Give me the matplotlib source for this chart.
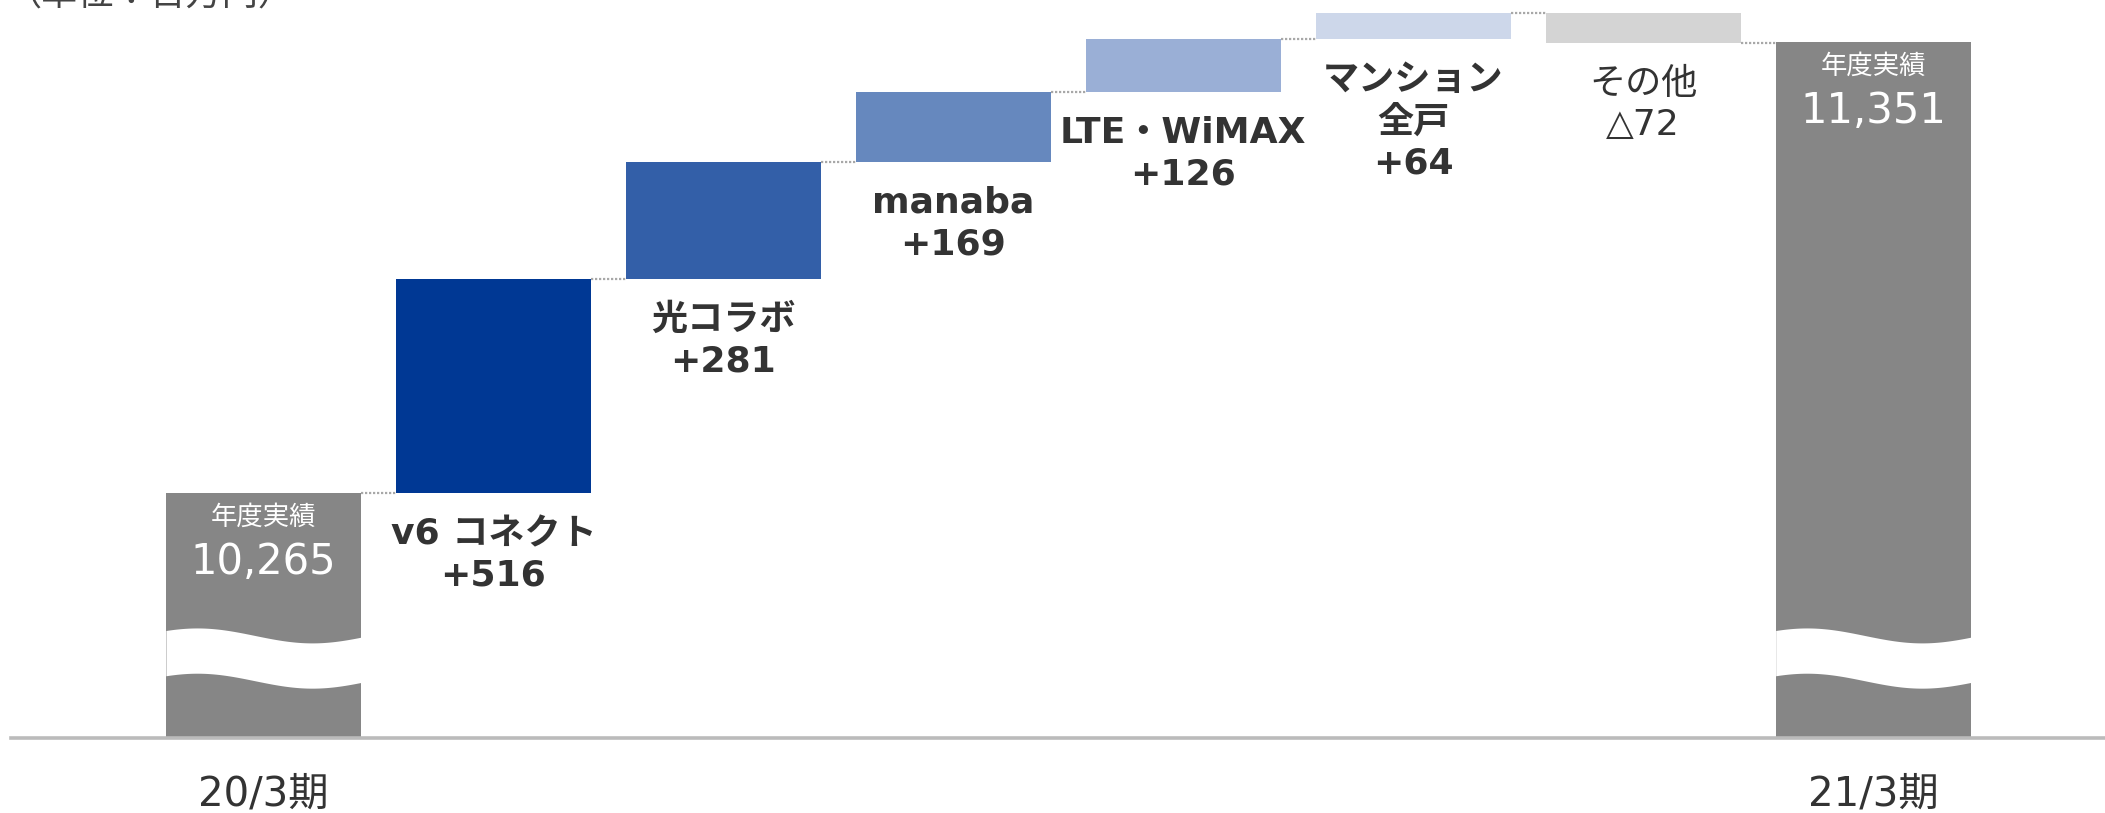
import numpy as np
import matplotlib.pyplot as plt

plt.rcParams['font.family'] = ['DejaVu Sans', 'Noto Sans CJK JP']

# data (百万円)
start_label = '20/3期'
end_label = '21/3期'
start_value = 10265
end_value = 11351
items = ['v6 コネクト', '光コラボ', 'manaba', 'LTE・WiMAX', 'マンション\n全戸', 'その他']
deltas = [516, 281, 169, 126, 64, -72]
delta_text = ['+516', '+281', '+169', '+126', '+64', '△72']
colors = ['#003894', '#335fa8', '#6688be', '#9aafd6', '#cdd7ea', '#d4d4d4']

total_color = '#868686'
text_color = '#333333'
y_base = 9675          # broken axis: bars start here
w = 0.848

fig = plt.figure(figsize=(21.05, 8.13), dpi=100)
ax = fig.add_axes([11 / 2105, 75 / 813, 1 - 11 / 2105, 738 / 813])
ax.set_xlim(-1.0976, 8.008)
ax.set_ylim(y_base, 11452)

n = len(deltas)
xs = np.arange(n + 2)

# total bars
for x, v in [(xs[0], start_value), (xs[-1], end_value)]:
    ax.bar(x, v - y_base, bottom=y_base, width=w, color=total_color, zorder=2)
    # wave break
    t = np.linspace(0, 1, 200)
    xx = x - w / 2 + t * w
    wave = 18 * np.cos(2 * np.pi * (t - 0.16) / 1.18)
    ax.fill_between(xx, 9813 + wave, 9922 + wave, color='white', lw=0, zorder=3)
    ax.annotate('年度実績', (x, v), xytext=(0, -11 * 0.72), textcoords='offset points',
                ha='center', va='top', color='white', fontsize=19,
                family=['Noto Sans CJK JP'], zorder=4)
    ax.annotate(f'{v:,}', (x, v), xytext=(0, -48 * 0.72), textcoords='offset points',
                ha='center', va='top', color='white', fontsize=30, zorder=4)

# step bars
run = start_value
levels = [start_value]
for i, d in enumerate(deltas):
    x = xs[i + 1]
    lo = min(run, run + d)
    ax.bar(x, abs(d), bottom=lo, width=w, color=colors[i], zorder=2)
    wt = 'normal' if d < 0 else 'bold'
    ax.annotate(items[i] + '\n' + delta_text[i], (x, lo), xytext=(0, -24 * 0.72),
                textcoords='offset points', ha='center', va='top', color=text_color,
                fontsize=26, fontweight=wt, linespacing=1.28, zorder=4)
    run += d
    levels.append(run)

# dotted connectors
for i, lv in enumerate(levels):
    ax.plot([xs[i] + w / 2, xs[i + 1] - w / 2], [lv, lv], color='#a8a8a8',
            lw=1.6, linestyle=(0, (1, 0.8)), zorder=1)

# period labels
for x, lab in [(xs[0], start_label), (xs[-1], end_label)]:
    ax.annotate(lab, (x, y_base), xytext=(0, -56 * 0.72), textcoords='offset points',
                ha='center', va='center', color=text_color, fontsize=29, annotation_clip=False)

for s in ['top', 'right', 'left']:
    ax.spines[s].set_visible(False)
ax.spines['bottom'].set_color('#bbbbbb')
ax.spines['bottom'].set_linewidth(2.6)
ax.set_xticks([])
ax.set_yticks([])

fig.text(6 / 2105, 1 - 6 / 813, '（単位：百万円）', ha='left', va='baseline',
         fontsize=26, color='#444444', family=['Noto Sans CJK JP'])

fig.savefig('out.png', dpi=100)
